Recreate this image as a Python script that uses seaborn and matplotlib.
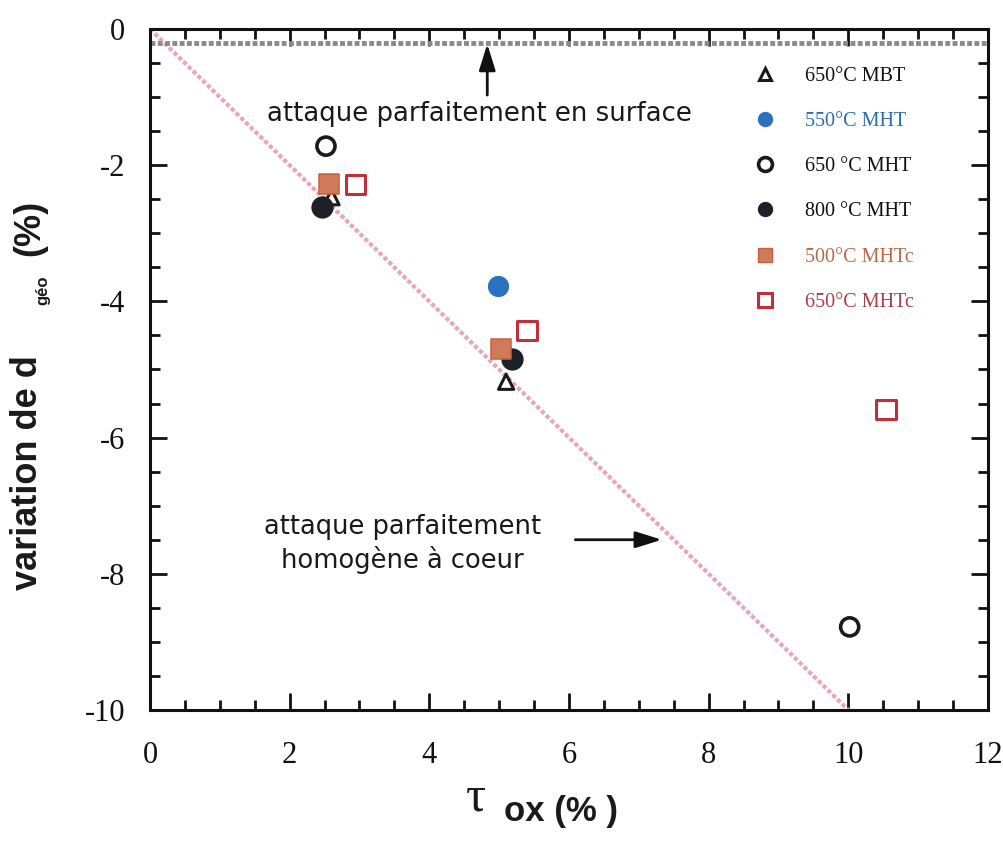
import numpy as np
import pandas as pd
import matplotlib
matplotlib.use("Agg")
import matplotlib.pyplot as plt
import seaborn as sns
from matplotlib.lines import Line2D
from matplotlib.ticker import MultipleLocator

sns.set_theme(style="white")
plt.rcParams['font.family'] = ['Liberation Sans', 'DejaVu Sans']
plt.rcParams['axes.unicode_minus'] = False

# Data
series = ["650°C MBT", "550°C MHT", "650 °C MHT", "800 °C MHT", "500°C MHTc", "650°C MHTc"]
x_mbt650 = [2.60, 5.10]
y_mbt650 = [-2.47, -5.18]
x_mht550 = [4.98]
y_mht550 = [-3.77]
x_mht650 = [2.52, 10.02]
y_mht650 = [-1.72, -8.78]
x_mht800 = [2.46, 5.18]
y_mht800 = [-2.61, -4.85]
x_mhtc500 = [2.56, 5.03]
y_mhtc500 = [-2.28, -4.70]
x_mhtc650 = [2.94, 5.40, 10.54]
y_mhtc650 = [-2.28, -4.43, -5.59]

line_homog_x = [0, 10]
line_homog_y = [0, -10]
line_surf_x = [0, 12]
line_surf_y = [-0.2, -0.2]

x_ticks = [0, 2, 4, 6, 8, 10, 12]
y_ticks = [0, -2, -4, -6, -8, -10]

fig = plt.figure(figsize=(10.04, 8.41), dpi=100)
ax = fig.add_axes([0.1494, 0.1558, 0.8346, 0.8097])

# reference lines
sns.lineplot(x=line_homog_x, y=line_homog_y, ax=ax, color="#eaa6b6", lw=3,
             linestyle=(0, (1, 0.6)), zorder=1)
sns.lineplot(x=line_surf_x, y=line_surf_y, ax=ax, color="#8a8a8a", lw=3.5,
             linestyle=(0, (1, 0.5)), zorder=1)

specs = [
    (x_mbt650, y_mbt650, dict(marker="^", s=120, facecolor="none", edgecolor="#1a1a1a", linewidth=2.2), "#111111"),
    (x_mht550, y_mht550, dict(marker="o", s=200, color="#2a72c0", edgecolor="#2a72c0"), "#2a6cb0"),
    (x_mht650, y_mht650, dict(marker="o", s=170, facecolor="none", edgecolor="#1a1a1a", linewidth=2.6), "#111111"),
    (x_mht800, y_mht800, dict(marker="o", s=220, color="#1c2128", edgecolor="#1c2128"), "#111111"),
    (x_mhtc500, y_mhtc500, dict(marker="s", s=190, color="#cf7a5a", edgecolor="#c8603f"), "#b86a48"),
    (x_mhtc650, y_mhtc650, dict(marker="s", s=190, facecolor="none", edgecolor="#c0303a", linewidth=2.2), "#a8404a"),
]

handles = []
labcolors = []
for (xs, ys, kw, tc), name in zip(specs, series):
    df = pd.DataFrame({"x": xs, "y": ys})
    sns.scatterplot(data=df, x="x", y="y", ax=ax, zorder=3, legend=False, **kw)
    fc = kw.get("facecolor", kw.get("color"))
    ec = kw.get("edgecolor")
    ms = {"^": 9, "o": 10, "s": 10}[kw["marker"]]
    handles.append(Line2D([], [], linestyle="none", marker=kw["marker"], markersize=ms,
                          markerfacecolor=fc, markeredgecolor=ec,
                          markeredgewidth=kw.get("linewidth", 1.0), label=name))
    labcolors.append(tc)

leg = ax.legend(handles=handles, loc="upper left", bbox_to_anchor=(0.722, 0.945),
                frameon=False, prop={"family": "Liberation Serif", "size": 14.5},
                labelspacing=1.3, handletextpad=1.5, handlelength=1.0,
                borderaxespad=0, borderpad=0)
for t, c in zip(leg.get_texts(), labcolors):
    t.set_color(c)

ax.set_xlim(0, 12)
ax.set_ylim(-10, 0)
ax.set_xticks(x_ticks)
ax.set_yticks(y_ticks)
ax.xaxis.set_minor_locator(MultipleLocator(0.5))
ax.yaxis.set_minor_locator(MultipleLocator(0.5))
ax.tick_params(which="both", direction="in", top=True, right=True, bottom=True, left=True,
               color="#111111", width=2)
ax.tick_params(which="major", length=12)
ax.tick_params(which="minor", length=7)
ax.tick_params(axis="x", which="major", pad=22)
ax.tick_params(axis="y", which="major", pad=18)
for lab in ax.get_xticklabels() + ax.get_yticklabels():
    lab.set_fontfamily("Liberation Serif")
    lab.set_fontsize(22)
    lab.set_color("#111111")
for sp in ax.spines.values():
    sp.set_color("#111111")
    sp.set_linewidth(2.2)

ax.set_xlabel("")
ax.set_ylabel("")
W, H = 1004.0, 841.0
sans_bold = dict(family="Liberation Sans", fontweight="bold", fontstretch="normal", color="#1a1a1a")
fig.text(28 / W, 1 - 590 / H, "variation de d", rotation=90, ha="center", va="bottom",
         fontsize=26, **sans_bold)
fig.text(43 / W, 1 - 290 / H, "géo", rotation=90, ha="center", va="center",
         fontsize=12, **sans_bold)
fig.text(30 / W, 1 - 228 / H, "(%)", rotation=90, ha="center", va="center",
         fontsize=26, **sans_bold)
fig.text(476 / W, 1 - 798 / H, "τ", fontsize=36, family="Liberation Serif", ha="center", va="center",
         color="#1a1a1a")
fig.text(561 / W, 1 - 812 / H, "ox (% )", fontsize=25, ha="center", va="center", **sans_bold)

ax.text(4.72, -1.25, "attaque parfaitement en surface", fontsize=18.7, family="DejaVu Sans",
        ha="center", va="center", color="#1a1a1a")
ax.text(3.61, -7.56, "attaque parfaitement\nhomogène à coeur", fontsize=18.5, family="DejaVu Sans",
        ha="center", va="center", color="#1a1a1a", linespacing=1.3)
ax.annotate("", xy=(4.83, -0.22), xytext=(4.83, -0.97),
            arrowprops=dict(arrowstyle="-|>,head_length=0.8,head_width=0.25", color="#111111", lw=2,
                            mutation_scale=20, shrinkA=0, shrinkB=0))
ax.annotate("", xy=(7.33, -7.5), xytext=(6.09, -7.5),
            arrowprops=dict(arrowstyle="-|>,head_length=0.8,head_width=0.25", color="#111111", lw=2,
                            mutation_scale=20, shrinkA=0, shrinkB=0))

fig.savefig("out.png", dpi=100, facecolor="white")
